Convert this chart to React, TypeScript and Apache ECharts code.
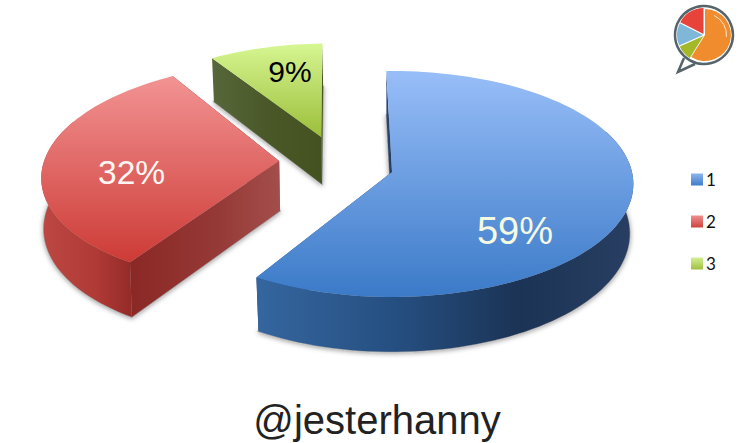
import React, { useEffect, useRef } from "react";
import * as echarts from "echarts";

const categories = ["1", "2", "3"];
const shares = [59, 32, 9];
const captionText = "@jesterhanny";

// layout of the tilted disc (perspective projection of a unit-circle plane)
const CX = 392, CY = 172, RX = 240, RY = 111.7, K = 0.106;
const START_DEG = -1.5;
const sliceDepth = [49, 50.5, 49];
const bottomScale = [0.985, 0.993, 0.99];
const explodeOffsets = [[0, 0], [-0.475, -0.1], [-0.305, -0.325]];
const sliceScale = [[1, 1], [0.99, 1], [0.96, 0.985]];
const sliceTurn = [0, 1.5, 0];
const labelOffsets = [[0.485, 0.5], [-0.61, 0.1], [-0.165, -0.675]];
const labelSizes = [38, 33.5, 30];
const labelColors = ["#f4f9e2", "#fdf6f2", "#000000"];
const topStops = [
  ["#98bef8", "#3b7ac8"],
  ["#f29393", "#cd3b36"],
  ["#d6f692", "#9cbe3a"],
];
const wallStops = [
  [[0, "#35669f"], [0.38, "#254e80"], [0.7, "#1b3354"], [1, "#283f63"]],
  [[0, "#bd4742"], [0.6, "#b03a36"], [1, "#942b28"]],
  [[0, "#55663a"], [1, "#445220"]],
];
const sideStops = [
  [[0, "#2c4a78"], [1, "#20395f"]],
  [[0, "#8a2825"], [0.6, "#963a37"], [1, "#a34e4b"]],
  [[0, "#576739"], [0.5, "#4a5829"], [1, "#445220"]],
];
const legendStops = [
  ["#8db5ee", "#3f7cc8"],
  ["#ee8f8f", "#cf423d"],
  ["#d3ef95", "#a0c040"],
];

const grad = (x2: number, y2: number, stops: any[]) =>
  new echarts.graphic.LinearGradient(0, 0, x2, y2, stops.map((s: any) => ({ offset: s[0], color: s[1] })));
const vgrad = (pair: string[]) =>
  new echarts.graphic.LinearGradient(0, 0, 0, 1, [{ offset: 0, color: pair[0] }, { offset: 1, color: pair[1] }]);

function project(U: number, V: number) {
  const w = 1 / (1 - K * V);
  return { x: CX + RX * U * w, y: CY + RY * V * w, w };
}
const topPt = (U: number, V: number) => {
  const p = project(U, V);
  return [p.x, p.y];
};

function renderSlice(index: number) {
  const botPt = (U: number, V: number) => {
    const p = project(U, V);
    return [CX + (p.x - CX) * bottomScale[index], p.y + sliceDepth[index] * p.w];
  };
  return (_params: any, api: any) => {
    const value = api.value(0);
    const total = shares.reduce((a, b) => a + b, 0);
    const before = shares.slice(0, index).reduce((a, b) => a + b, 0);
    const a0 = START_DEG + sliceTurn[index] + (before / total) * 360;
    const a1 = a0 + (value / total) * 360;
    const [du, dv] = explodeOffsets[index];
    const [su, sv] = sliceScale[index];
    const arc: number[][] = [];
    const steps = Math.max(8, Math.ceil((a1 - a0) / 2));
    for (let i = 0; i <= steps; i++) {
      const t = ((a0 + ((a1 - a0) * i) / steps) * Math.PI) / 180;
      arc.push([du + su * Math.sin(t), dv - sv * Math.cos(t)]);
    }
    const apex = [du, dv];
    const face = (fn: any) => [fn(apex[0], apex[1]), ...arc.map((p) => fn(p[0], p[1]))];
    const quad = (p: number[], q: number[]) => [
      topPt(p[0], p[1]), topPt(q[0], q[1]), botPt(q[0], q[1]), botPt(p[0], p[1]),
    ];
    // only the part of the rim facing the viewer is drawn as wall
    const frontRim = arc.filter((p) => p[1] - dv > -0.4);
    const rimPts = frontRim.length > 1
      ? [...frontRim.map((p) => topPt(p[0], p[1])), ...frontRim.slice().reverse().map((p) => botPt(p[0], p[1]))]
      : null;
    const children: any[] = [
      {
        type: "polygon",
        shape: { points: face(botPt) },
        style: {
          fill: "#a8a8a8", stroke: "#a8a8a8", lineWidth: 1.5,
          shadowBlur: 5, shadowColor: "rgba(0,0,0,0.4)", shadowOffsetX: 0, shadowOffsetY: 1,
        },
      },
      { type: "polygon", shape: { points: quad(arc[arc.length - 1], apex) }, style: { fill: grad(1, 0, sideStops[index]) } },
      { type: "polygon", shape: { points: quad(apex, arc[0]) }, style: { fill: grad(1, 0, sideStops[index]) } },
    ];
    if (rimPts) {
      children.push({ type: "polygon", shape: { points: rimPts }, style: { fill: grad(1, 0, wallStops[index]) } });
    }
    children.push({ type: "polygon", shape: { points: face(topPt) }, style: { fill: vgrad(topStops[index]) } });
    const lp = project(du + labelOffsets[index][0], dv + labelOffsets[index][1]);
    children.push({
      type: "text",
      x: lp.x,
      y: lp.y,
      style: {
        text: `${value}%`,
        fontSize: labelSizes[index],
        fontFamily: "Liberation Sans",
        fill: labelColors[index],
        align: "center",
        verticalAlign: "middle",
      },
    });
    return { type: "group", children };
  };
}

const deg = (d: number) => (d * Math.PI) / 180;
const LOGO_X = 704, LOGO_Y = 35;
const logoSectors = [
  { from: -90, to: 122, r: 26, fill: "#f08c2e", dx: 1, dy: 0 },
  { from: 122, to: 156, r: 26, fill: "#a4b92a", dx: -0.5, dy: 1 },
  { from: 156, to: 207, r: 26, fill: "#7fb7d8", dx: -1, dy: 0 },
  { from: 207, to: 270, r: 26, fill: "#e8433a", dx: -0.5, dy: -1 },
];

export default function App() {
  const ref = useRef<HTMLDivElement>(null);
  useEffect(() => {
    const chart = echarts.init(ref.current!, undefined, { renderer: "svg" });
    chart.setOption({
      animation: false,
      backgroundColor: "#ffffff",
      title: {
        text: captionText,
        left: 377,
        top: 395,
        textAlign: "center",
        textStyle: { fontFamily: "Liberation Sans", fontSize: 40, fontWeight: "normal", color: "#222222" },
        padding: [5, 5, 5, 0],
      },
      legend: {
        orient: "vertical",
        left: 686,
        top: 166,
        itemWidth: 12,
        itemHeight: 12,
        itemGap: 25,
        icon: "rect",
        selectedMode: false,
        textStyle: { fontFamily: "Lato", fontSize: 17, color: "#111111", padding: [3, 0, 0, -2] },
        data: categories.map((name, i) => ({ name, itemStyle: { color: vgrad(legendStops[i]) } })),
      },
      series: categories.map((name, i) => ({
        type: "custom",
        name,
        coordinateSystem: "none",
        silent: true,
        data: [[shares[i]]],
        itemStyle: { color: topStops[i][1] },
        renderItem: renderSlice(i),
      })),
      graphic: [
        {
          type: "group",
          children: [
            {
              type: "polyline",
              shape: { points: [[684, 58], [678, 72], [695, 64]] },
              style: { fill: "#ffffff", stroke: "#55646b", lineWidth: 2.5 },
            },
            {
              type: "circle",
              shape: { cx: LOGO_X, cy: LOGO_Y, r: 29 },
              style: { fill: "#ffffff", stroke: "#55646b", lineWidth: 2.5 },
            },
            ...logoSectors.map((s) => ({
              type: "sector",
              shape: {
                cx: LOGO_X + s.dx, cy: LOGO_Y + s.dy, r0: 0, r: s.r,
                startAngle: deg(s.from), endAngle: deg(s.to), clockwise: true,
              },
              style: { fill: s.fill },
            })),
            {
              type: "arc",
              shape: { cx: LOGO_X + 1, cy: LOGO_Y, r: 21.5, startAngle: deg(-65), endAngle: deg(5), clockwise: true },
              style: { stroke: "#ffffff", lineWidth: 1, fill: "none", opacity: 0.8 },
            },
          ],
        },
      ],
    });
    return () => chart.dispose();
  }, []);
  return <div ref={ref} style={{ position: "fixed", left: 0, top: 0, width: 743, height: 443 }} />;
}
